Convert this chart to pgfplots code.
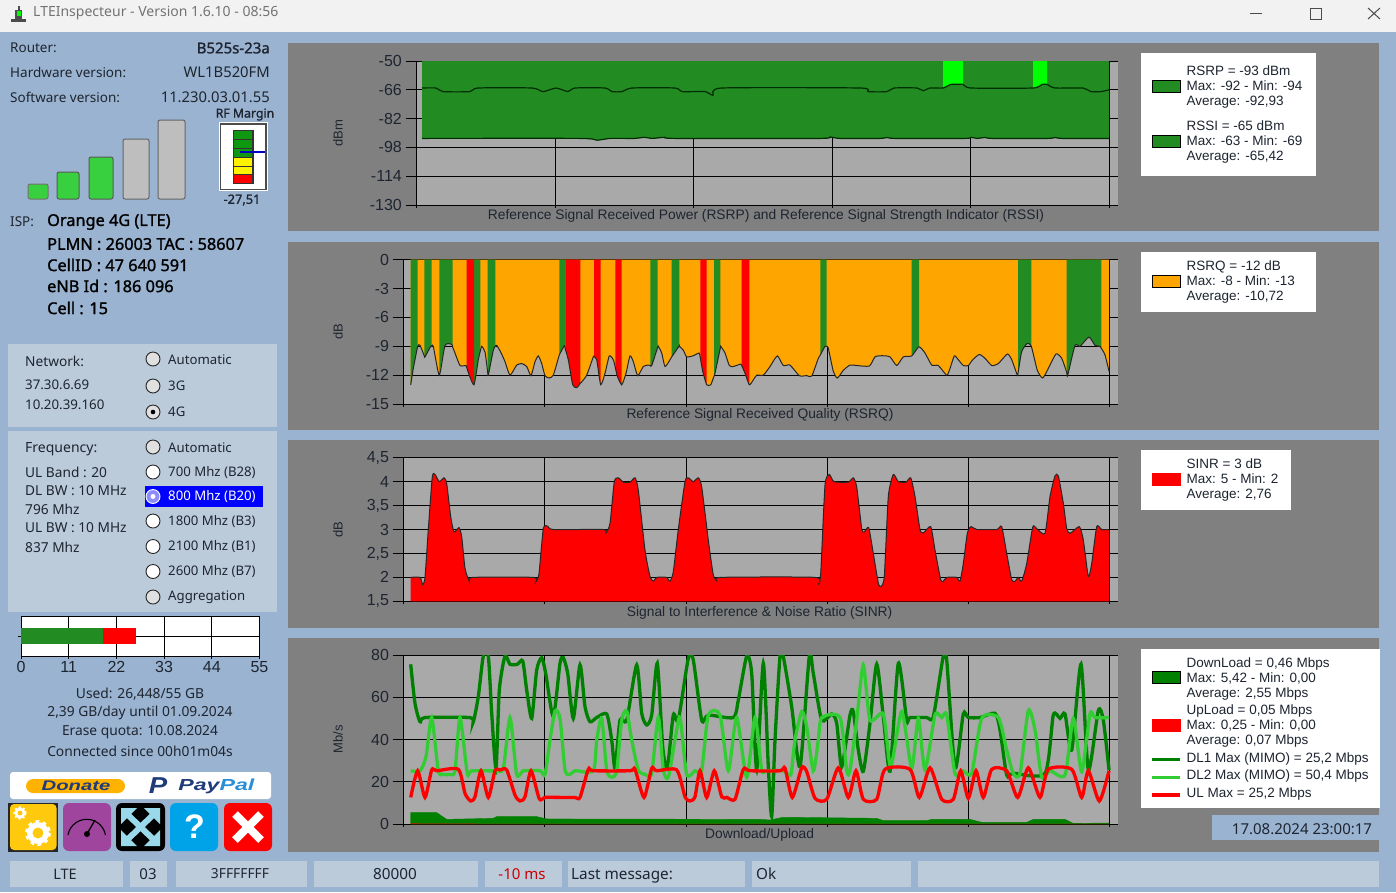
\documentclass[border=0pt]{standalone}
\usepackage{fontspec}
\usepackage{pgfplots}
\usepackage{pgfplotstable}
\pgfplotsset{compat=1.18}
\setmainfont{Liberation Sans}
\newfontfamily\ui{Noto Sans}
\newfontfamily\uib[FakeBold=1.3]{Noto Sans}
\newcommand\fs[1]{\fontsize{#1}{15}\selectfont}
\definecolor{panel}{HTML}{808080}
\definecolor{plotbg}{HTML}{A9A9A9}
\definecolor{outer}{HTML}{9AB3D0}
\definecolor{box}{HTML}{BCCBDA}
\definecolor{fgreen}{HTML}{228B22}
\definecolor{lgreen}{HTML}{32CD32}
\definecolor{dgreen}{HTML}{008000}
\definecolor{lime}{HTML}{00FF00}
\definecolor{orng}{HTML}{FFA500}
\definecolor{ink}{HTML}{1E2530}
\definecolor{barg}{HTML}{39D040}
\definecolor{barh}{HTML}{BEBEBE}
\definecolor{navy}{HTML}{1F3B7A}
\definecolor{ppblue}{HTML}{2A8FD8}
\definecolor{btny}{HTML}{FFC90E}
\definecolor{btnp}{HTML}{A0459E}
\definecolor{btnb}{HTML}{00A2E8}
\definecolor{btna}{HTML}{99D9EA}
\pgfplotsset{
  swatch/.style={legend image code/.code={\path (-11pt,0pt) (34pt,0pt);\draw[fill=#1,draw=black,line width=1pt] (0pt,-5pt) rectangle (28pt,7pt);}},
  swatchr/.style={legend image code/.code={\path (-11pt,0pt) (34pt,0pt);\fill[#1] (0pt,-5pt) rectangle (28pt,7pt);}},
  lineimg/.style={legend image code/.code={\path (-11pt,0pt) (34pt,0pt);\draw[#1,line width=3.5pt] (0pt,-1pt) -- (28pt,-1pt);}},
  chart/.style={
    scale only axis,
    anchor=south west,
    axis background/.style={fill=plotbg},
    axis x line*=bottom, axis y line*=left,
    axis line style={-,black,line width=1pt},
    y axis line style={line width=1.5pt},
    grid=both, grid style={black,line width=0.9pt},
    minor grid style={black,line width=0.9pt},
    major tick length=11pt, minor tick length=3pt,
    tick style={black,line width=0.9pt},
    tick align=outside,
    xtick={300},
    xticklabels={},
    scaled ticks=false,
    /pgf/number format/assume math mode=true,
    yticklabel style={font=\fs{16},text=ink,inner xsep=3.5pt},
    ylabel style={font=\fs{13},text=ink},
    xlabel style={font=\fs{13.8},text=ink,anchor=center},
    every axis plot/.append style={forget plot},
    clip=true,
    legend style={draw=none,fill=white,font=\fs{13.5},text=ink,anchor=north west,
      nodes={inner sep=0pt,text depth=},cells={anchor=west},
      inner xsep=0pt,inner ysep=8.5pt},
  },
}
\newcommand\lgd[2]{\parbox{#1}{\raggedright #2}}
% ---- series: x is the horizontal sample position, y the value
\pgfplotstableread{
x y
422 -65
436 -65
443 -67
470 -67
478 -65
532 -65
543 -67
556 -65
568 -67
575 -65
605 -65
612 -67
622 -67
632 -65
675 -65
682 -67
705 -67
713 -69
722 -65
860 -65
868 -67
887 -67
894 -65
917 -65
923 -66.5
930 -65
943 -65
951 -63
963 -63
971 -65
1033 -65
1042 -63
1047 -63
1055 -65
1083 -65
1091 -67
1101 -67
1109 -66
}\rssi
\pgfplotstableread{
x y
422 -93
580 -93
597 -94
610 -93
635 -93
644 -92.4
652 -93
660 -92.6
665 -92.4
675 -93
820 -93
830 -92.2
840 -93
880 -93
887 -92.5
895 -93
965 -93
971 -92.4
977 -93
985 -92.5
992 -93
1048 -93
1055 -92.5
1062 -93
1109 -93
}\rsrp
\pgfplotstableread{
x y
410.7 -13
413.3 -11.3
417.7 -9
420 -8.9
424.3 -10
425 -10.1
430.7 -9
431.7 -9
433.3 -9
439.3 -12
445 -8.9
451.7 -8.8
452.7 -9.1
455 -9.7
460 -11
466 -11
466.7 -11.2
469.3 -12
474 -13
478.3 -10.4
480.3 -9.5
481.7 -9
485 -9.6
487.7 -11.7
488.3 -12
493.3 -9.4
495.3 -9
496.7 -8.9
500.7 -9.6
505 -10.6
510 -12
516.7 -10.95
521.7 -10.8
526.7 -11.1
531 -12.05
535 -10.6
538.3 -10
541.7 -10.8
545 -12.05
549.3 -12.3
553.3 -12
558.3 -10.25
559.3 -9.9
564.3 -8.95
565.3 -9.3
568.3 -10.4
572.7 -13
576.7 -13.3
580.3 -12.85
581.7 -12.7
586.7 -12
593.3 -10.1
594 -10.1
596.7 -10.4
600.7 -13
605 -11.8
609.3 -10
613.3 -10.4
615.3 -11.2
617.3 -12.1
621.7 -13
626 -11.8
630 -10
633.3 -10.6
637.7 -12.05
643.3 -11.1
648.3 -10.95
650.3 -11
651.7 -11
657.7 -9.1
658.3 -9
661.7 -9.7
665 -11.1
670 -10.4
671.7 -10.1
679 -9
679.3 -9
683.3 -9.4
686.7 -10.1
693.3 -9.98
699 -9.7
700.3 -10.2
702.7 -11.6
706.7 -13
710.7 -13
714 -12.1
715 -11.8
720.3 -9.2
720.7 -9
725 -9.7
729.3 -11
733.3 -11.1
740.7 -10.85
741.7 -11
745 -11.8
749.3 -13
753.3 -12.5
756.7 -12
763.3 -12
770 -11.1
777.3 -10
783.3 -11
790 -10.95
799.3 -12.05
806.7 -12.05
811.7 -12.1
818.3 -10.25
820.3 -9.9
825 -9
826.7 -9
828.3 -9.2
833.3 -11.6
837.3 -12.3
843.3 -11.5
850 -10.95
856.7 -11
869.3 -11.05
875 -10.1
881.7 -9.98
890 -10.1
896.7 -11
903.3 -10.1
911.7 -10
919 -9.05
925 -9.7
931.7 -10.95
938.3 -11
946.7 -12
950 -11.3
954.3 -10
958.3 -10.4
963.3 -11
968.3 -11
972.7 -10.4
979.3 -9.85
985 -10.25
991.7 -11
998.3 -10.8
1007.3 -9.8
1011.7 -10.4
1017.3 -12
1018 -11.8
1021.7 -9.55
1027.3 -8.7
1031.3 -9
1037.3 -11.5
1042.7 -12.3
1048.3 -11.3
1056 -9.8
1061.7 -10.25
1066.7 -11.7
1067.7 -12
1075 -8.9
1080 -9
1089 -8.05
1095 -8.9
1100 -9
1101.3 -9.2
1105 -9.9
1109 -11.6
}\rsrq
\pgfplotstableread{
x y
410.7 2
420 2
422.7 1.85
425 2
428.3 3
432.3 4.1
435 4.15
439.3 4
444 4.08
446.7 3.96
450.7 3.27
454 2.95
459 3.04
461.7 2.85
465 2.19
469.3 1.92
472.7 2
533.3 2
536 1.91
539 2.08
543.3 3.02
547.7 3.07
553.3 3
603.3 3
606 2.93
610 3.13
614.3 4
618.3 4.08
623.3 3.99
630 3.99
635 4.08
638.3 3.82
645 2.57
650 2.02
653.3 1.92
656.7 2
666.7 2
670 1.92
673.3 2.12
678.3 3
685 4
688.3 4.08
693.3 4
698.3 4.08
701.7 3.89
708.3 2.78
713.3 2.05
717.3 1.92
720.7 2
815 2
818.3 1.85
820.7 2.08
825 3.93
829.3 4.15
834 4
848.3 3.99
853.3 4.08
856.7 3.89
861.7 3.02
864.3 2.95
868.7 3.04
873.3 2.5
878.3 1.88
881 1.81
884.3 2.02
888.3 3.69
893.3 4.15
898.3 4
906 3.99
910.7 4.08
915 3.69
920 3
923.3 2.93
930.7 3.06
935 2.57
940.7 1.95
943.3 1.92
946.7 2
956.7 2
960 1.92
963.3 2.29
967.3 2.92
971 3.06
976.7 3
996.7 3
1001.7 3.06
1006.7 2.5
1011.7 1.95
1015 1.92
1018.3 2
1021.7 1.92
1026.7 2.29
1032.7 3.05
1036.7 3.02
1045 2.92
1050 3.69
1055 4.12
1058.3 4.12
1063.3 3.55
1066.7 3.02
1070 2.92
1079.3 3.06
1083.3 2.78
1088.3 2.02
1091.7 2.29
1096.7 3.06
1101.7 3
1109 3
}\sinr
\pgfplotstableread{
x y
410.7 5.4
436.7 5.4
446.7 2.2
493.3 2.7
496.7 3.5
536.7 3.5
546.7 2.4
760 2.2
770 1.9
783.3 3.2
876.7 2.7
883.3 1.6
926.7 1.6
931.7 2.2
970 2.2
981.7 0.8
1026.7 0.8
1033.3 2.2
1065 2.2
1073.3 0.3
1109 0.46
}\dlq
\pgfplotstableread{
x y
410.7 0.25
470 0.2
480 0.05
700 0.08
1109 0.05
}\ulq
\pgfplotstableread{
x y
410.7 75.6
415 57.1
420 48.4
425 50.4
470 50.4
473.3 48.4
478.3 60.3
483.3 79.5
488.3 79.5
491.7 52.4
496 26.4
499.3 63.4
505 79.5
510 75.6
517.3 75.6
522.7 77.2
526.7 63.4
531.7 50
536.7 72.9
541.7 78.7
545.7 71.3
553.3 50.8
560 76.1
563.3 78.7
567.7 71.3
573.3 50
580 75.3
585 55.5
590 48.4
596.7 50.4
606.7 52.1
611.7 39.8
615 26.4
620 49.2
626.7 49.2
636.7 75.3
641.7 52.4
646.7 46.9
651.7 51.6
657.3 76.1
662.7 36.6
667.3 26.4
673.3 51.6
678.3 49.2
688.3 78.4
693.3 77.6
701.7 49.2
708.3 51.6
733.3 50.4
738.3 58.7
746.7 79.5
751.7 71.3
756.7 25.6
763.3 76.1
768.3 27.1
771.7 3.5
775 39.8
780 79.5
783.3 79.2
791.7 55.5
800 27.1
809.3 79.5
813.3 71.3
821.7 49.2
831.7 52.1
836.7 47.7
841.7 27.1
850 51.6
853.3 53.2
858.3 35
863.3 25
870 47.7
876.7 75.7
883.3 50.8
890 25
898.3 76.1
906.7 49.2
910 50.4
926.7 50.4
933.3 50.8
943.3 79.5
946.7 77.6
955 26.4
963.3 52.1
968.3 50.4
980 50.4
995 52.4
1000 44.5
1006.7 23.2
1013.3 24
1045 24
1053.3 51.6
1060 50
1065 52.1
1071.7 35
1081 75.7
1088.3 25.6
1098.3 53.7
1103.3 49.2
1109 25.6
}\dla
\pgfplotstableread{
x y
410.7 25.2
420 25.2
426 31.9
431.7 50.4
438.3 25.2
443.3 23.5
450 23.5
455 25.2
460 50.4
467.3 24
471.7 25.2
495 25.2
503.3 26.4
510 50.4
516.7 23.5
523.3 25.2
540 25.2
545 23.5
550 39.8
555 53.5
560 50
565 25.6
570 23.5
575 25.2
593.3 25.2
596.7 39.8
601.7 50
606.7 25.6
611.7 22.1
616.7 25.2
621.7 49.2
626.7 53.5
631.7 39.8
638.3 25.6
645 23.5
651.7 24
658.3 50.4
663.3 25.6
668.3 22.1
675 39.8
680 50.4
686.7 23.5
695 25.2
701.7 25.6
708.3 51.6
720 51.6
728.3 25.2
736.7 50.4
746.7 22.1
755 50.4
761.7 25.6
766.7 25.2
783.3 25.2
790.7 23.2
795 39.8
801.7 53.2
806.7 46.1
813.3 25.2
818.3 39.8
821.7 50.4
840 50.4
846.7 25.2
850 25.6
856.7 49.2
863.3 75.3
870 49.2
883.3 52.1
890.7 27.1
901.7 53.2
911.7 26.4
918.3 50
925 25.6
935 51.6
941.7 50.4
946.7 51.6
955 24
963.3 25.2
971.7 24
981.7 50
998.3 50.4
1006.7 35
1013.3 24
1020 24
1028.3 53.7
1035 44.5
1041.7 22.1
1050 25.2
1065 23.2
1073.3 50
1081.7 24.8
1090 52.1
1095 50.4
1109 50.4
}\dlb
\pgfplotstableread{
x y
410.7 12.6
417.7 25.2
425 12.6
431.7 25.6
436.7 25.2
458.3 25.9
465 14.5
470.7 10.9
475 12.9
481 25.2
488.3 12.6
495 25.2
500 25.6
506.7 25.6
515 13.7
520 10.9
525 12.9
531 25.2
539.3 11.9
545 12.6
560 12.6
575 12.6
580 12.6
588.3 25.9
593.3 25.2
630 25.2
635 25.9
644 12.6
651.7 26.4
656.7 25.2
676.7 25.6
685 12.9
690 10.9
695 12.9
700 25.2
706.7 12.6
714.3 25.2
721.7 12.9
726.7 12.6
735 11.7
743.3 25.9
750 25.2
780 25.2
785 26.4
792.3 12.6
801.7 26.6
806.7 24.8
815 12.2
826.7 11.7
838.3 26.6
848.3 12.6
856 25.2
863.3 11.7
876.7 11.7
885 25.9
910 25.9
919.3 12.6
930 26.6
941.7 11.7
953.3 11.7
960.7 25.2
968.3 12.2
976 25.2
983.3 12.6
991.7 25.9
1006.7 25.2
1017.7 12.6
1028.3 26.6
1040 12.6
1048.3 25.9
1071.7 25.9
1081.7 12.6
1088.3 25.2
1099.3 10.9
1109 25.2
}\ulm
\begin{document}
\begin{tikzpicture}[x=1pt,y=-1pt]
\useasboundingbox (0,0) rectangle (1396,892);
\fill[outer] (0,0) rectangle (1396,892);
% title bar
\fill[white!95!black] (0,0) rectangle (1396,32);
\node[anchor=west,inner sep=0pt,text=black!55] at (33,13) {\ui\fs{14}LTEInspecteur - Version 1.6.10 - 08:56};
\fill[black!70] (11,19) rectangle (26,22);
\fill[black!70] (15,10) rectangle (22,19);
\fill[lime] (16.5,11) rectangle (20.5,16);
\fill[black!70] (17.5,6) rectangle (19.5,10);
\draw[black!70,line width=1pt] (1250,13) -- (1262,13);
\draw[black!70,line width=1pt] (1310,8) rectangle (1321,19);
\draw[black!70,line width=1pt] (1368,8) -- (1380,19) (1380,8) -- (1368,19);
% chart panels
\fill[panel] (288,43) rectangle (1379,231);
\fill[panel] (288,242) rectangle (1379,430);
\fill[panel] (288,440) rectangle (1379,628);
\fill[panel] (288,638) rectangle (1379,852);
% left column
\begin{scope}[every node/.style={inner sep=0pt,text=ink}]
\node[anchor=west] at (10,48) {\ui\fs{13.5}Router:};
\node[anchor=east] at (270,48) {\uib\fs{15}B525s-23a};
\node[anchor=west] at (10,72) {\ui\fs{13.5}Hardware version:};
\node[anchor=east] at (270,72) {\ui\fs{14.8}WL1B520FM};
\node[anchor=west] at (10,97) {\ui\fs{13.5}Software version:};
\node[anchor=east] at (270,97) {\ui\fs{14.8}11.230.03.01.55};
\node at (245,114.5) {\uib\fs{12.3}RF Margin};
\node at (242,200) {\uib\fs{12.8}-27,51};
\node[anchor=west] at (10,222) {\ui\fs{13.5}ISP:};
\node[anchor=west,text=black] at (47,222) {\uib\fs{16.3}Orange 4G (LTE)};
\node[anchor=west,text=black] at (47,244) {\uib\fs{16.3}PLMN : 26003 TAC : 58607};
\node[anchor=west,text=black] at (47,265) {\uib\fs{16.3}CellID : 47 640 591};
\node[anchor=west,text=black] at (47,286) {\uib\fs{16.3}eNB Id : 186 096};
\node[anchor=west,text=black] at (47,308) {\uib\fs{16.3}Cell : 15};
\end{scope}
% signal bars
\foreach \a/\b/\c/\col/\ed in {28/48/184/barg/black!55,57/79/172/barg/black!65,89/113/157/barg/black!65,123/149/139/barh/black!60,158/185/120/barh/black!60}{
  \draw[fill=\col,draw=\ed,line width=1pt,rounded corners=2pt] (\a,\c) rectangle (\b,199);
}
% RF margin
\fill[white] (219,122) rectangle (268,191);
\draw[black!70,line width=1.5pt] (220.5,124) rectangle (266,189.5);
\fill[black!80] (232.5,129.5) rectangle (253.5,184);
\foreach \a/\b/\col in {130.5/139/dgreen!70!lgreen,140/148/dgreen!70!lgreen,149/157/dgreen!70!lgreen,158/165.5/yellow,166.5/174/yellow,175/183/red}{
  \fill[\col] (234,\a) rectangle (252,\b);
}
\draw[blue!75!black,line width=1.2pt] (240,152) -- (265,152);
% network and frequency boxes
\fill[box] (8,344) rectangle (277,427);
\fill[box] (8,431) rectangle (277,612);
\begin{scope}[every node/.style={inner sep=0pt,text=ink,anchor=west}]
\node at (25,361) {\ui\fs{13.7}Network:};
\node at (25,385) {\ui\fs{13.3}37.30.6.69};
\node at (25,405) {\ui\fs{13.3}10.20.39.160};
\node at (25,449) {\ui\fs{14}Frequency:};
\node at (25,472) {\ui\fs{13.7}UL Band : 20};
\node at (25,491) {\ui\fs{13.7}DL BW : 10 MHz};
\node at (25,509) {\ui\fs{13.7}796 Mhz};
\node at (25,528) {\ui\fs{13.7}UL BW : 10 MHz};
\node at (25,547) {\ui\fs{13.7}837 Mhz};
\node at (168,360) {\ui\fs{13.2}Automatic};
\node at (168,386) {\ui\fs{13.2}3G};
\node at (168,412) {\ui\fs{13.2}4G};
\node at (168,447.5) {\ui\fs{13.2}Automatic};
\node at (168,472.5) {\ui\fs{13.2}700 Mhz (B28)};
\node at (168,522) {\ui\fs{13.2}1800 Mhz (B3)};
\node at (168,547) {\ui\fs{13.2}2100 Mhz (B1)};
\node at (168,572) {\ui\fs{13.2}2600 Mhz (B7)};
\node at (168,597.5) {\ui\fs{13.2}Aggregation};
\end{scope}
\fill[blue] (145,486) rectangle (263,507);
\node[anchor=west,inner sep=0pt,text=white] at (168,497) {\ui\fs{13.2}800 Mhz (B20)};
\foreach \yy/\col in {359/black!12,386/black!12,412/black!12,447/black!12,472/white,521/white,546.5/white,571.5/white,597/black!12}{
  \draw[fill=\col,draw=black!85,line width=0.9pt] (153,\yy) circle (7);
}
\fill[black] (153,412) circle (2.3);
\draw[fill=blue!45!white,draw=white,line width=0.9pt] (153,496.5) circle (7);
\fill[white] (153,496.5) circle (2.5);
% quota axis
\begin{axis}[scale only axis,anchor=south west,at={(21pt,-656pt)},width=238.5pt,height=39.5pt,
  xmin=0,xmax=55,ymin=0,ymax=2,xtick={0,11,22,33,44,55},ytick={1},yticklabels={},
  grid=major,grid style={black,line width=0.9pt},axis line style={black,line width=1pt},
  axis background/.style={fill=white},
  xbar stacked,bar width=16pt,
  tick align=outside,xtick pos=bottom,ytick pos=left,
  major tick length=3pt,tick style={black,line width=0.9pt},
  /pgf/number format/assume math mode=true,
  xticklabel style={font=\fs{16},text=ink,inner ysep=2pt}]
\addplot[fill=fgreen,draw=none] coordinates {(18.86,1)};
\addplot[fill=red,draw=none] coordinates {(7.58,1)};
\end{axis}
\begin{scope}[every node/.style={inner sep=0pt,text=ink}]
\node at (140,694) {\ui\fs{13.8}Used: 26,448/55 GB};
\node at (140,713) {\ui\fs{13.8}2,39 GB/day until 01.09.2024};
\node at (140,732) {\ui\fs{13.8}Erase quota: 10.08.2024};
\node at (140,751) {\ui\fs{13.8}Connected since 00h01m04s};
\end{scope}
% donate
\fill[white,rounded corners=3pt] (10,772) rectangle (271,799);
\fill[orng!85!yellow,rounded corners=7pt] (26,779) rectangle (125,793);
\node[inner sep=0pt,text=navy,xscale=1.45] at (76,786) {\fs{14}\bfseries\itshape Donate};
\node[inner sep=0pt,text=navy,xscale=1.2] at (158,785.5) {\fs{23}\bfseries\itshape P};
\node[anchor=west,inner sep=0pt,xscale=1.45] at (178,786) {\fs{16}\bfseries\itshape\textcolor{navy}{Pay}\textcolor{ppblue}{Pal}};
% buttons
\fill[black!85] (8,802.5) rectangle (58,851.5);
\fill[btny,rounded corners=4pt] (10,804) rectangle (56.5,850);
\draw[white,line width=4pt,dash pattern=on 3.5pt off 3.5pt] (38,833) circle (11);
\fill[white] (38,833) circle (11);
\fill[btny] (38,833) circle (5.5);
\draw[white,line width=2.2pt,dash pattern=on 2pt off 2pt] (20,813) circle (5.5);
\fill[white] (20,813) circle (5.5);
\fill[btny] (20,813) circle (2.5);
\fill[btnp,rounded corners=6pt] (63,803) rectangle (111,851);
\draw[black,line width=1.1pt] (68,835) arc (-170:-10:19);
\draw[black,line width=1.3pt] (87,834) -- (95,820);
\fill[black] (87,834) circle (3);
\fill[black,rounded corners=6pt] (116,803) rectangle (165,851);
\draw[btna,line width=6pt] (127,814) -- (154,840) (154,814) -- (127,840);
\fill[btna] (121,808) -- (137,808) -- (121,824) -- cycle;
\fill[btna] (160,808) -- (144,808) -- (160,824) -- cycle;
\fill[btna] (121,846) -- (137,846) -- (121,830) -- cycle;
\fill[btna] (160,846) -- (144,846) -- (160,830) -- cycle;
\fill[btnb,rounded corners=6pt] (170,803) rectangle (218,851);
\node[inner sep=0pt,text=white] at (194.5,827) {\fs{34}\bfseries ?};
\fill[red,rounded corners=6pt] (224,803) rectangle (272,851);
\draw[white,line width=8pt] (235,814) -- (261,840) (261,814) -- (235,840);
% date and status bar
\fill[outer] (1212,815) rectangle (1379,840);
\node[inner sep=0pt,text=ink] at (1302,829) {\ui\fs{15}17.08.2024 23:00:17};
\foreach \a/\b in {10/123,130/167,176/307,314/478,485/562,568/745,752/911,918/1379}{
  \fill[box] (\a,861) rectangle (\b,887);
}
\begin{scope}[every node/.style={inner sep=0pt,text=ink}]
\node at (65,874) {\ui\fs{14.5}LTE};
\node at (148,874) {\ui\fs{15}03};
\node at (240,874) {\ui\fs{13.8}3FFFFFFF};
\node at (395,874) {\ui\fs{15.3}80000};
\node[text=red!80!black] at (522,874) {\ui\fs{15}-10 ms};
\node[anchor=west] at (571,875.5) {\ui\fs{15.3}Last message:};
\node[anchor=west] at (756,874) {\ui\fs{15.3}Ok};
\end{scope}
% ---------- chart 1
\begin{axis}[chart,at={(416.5pt,-205pt)},width=701pt,height=144pt,
  xmin=416.5,xmax=1117.5,ymin=-130,ymax=-50,
  minor xtick={416.5,555,693.5,832,970.5,1109},ytick={-130,-114,-98,-82,-66,-50},
  ylabel={dBm},y label style={at={(axis description cs:-0.112,0.5)},anchor=center},
  xlabel={Reference Signal Received Power (RSRP) and Reference Signal Strength Indicator (RSSI)},
  x label style={at={(axis description cs:0.4986,-0.0765)}},
  legend style={at={(axis description cs:1.0335,1.0556)},row sep=12pt,inner ysep=13pt}]
\addplot[smooth,tension=0.35,fill=fgreen,draw=none] table[x=x,y=y] {\rsrp} \closedcycle;
\addplot[fill=lime,draw=none] coordinates {(943,-65)(951,-63)(963,-63)} \closedcycle;
\addplot[fill=lime,draw=none] coordinates {(1033,-65)(1042,-63)(1047,-63)} \closedcycle;
\addplot[smooth,tension=0.35,draw=black!60!green!45!black,line width=1.2pt] table[x=x,y=y] {\rsrp};
\addplot[smooth,tension=0.35,draw=black!60!green!45!black,line width=1.2pt] table[x=x,y=y] {\rssi};
\addlegendimage{swatch=fgreen}
\addlegendentry{\lgd{129pt}{RSRP = -93 dBm\\Max: -92 - Min: -94\\Average: -92,93}}
\addlegendimage{swatch=fgreen}
\addlegendentry{\lgd{129pt}{RSSI = -65 dBm\\Max: -63 - Min: -69\\Average: -65,42}}
\end{axis}
% ---------- chart 2
\begin{axis}[chart,at={(403.7pt,-404pt)},width=714pt,height=144.3pt,
  xmin=403.7,xmax=1117.7,ymin=-15,ymax=0,
  minor xtick={403.7,544.8,686,827.2,968.2,1109.3},ytick={-15,-12,-9,-6,-3,0},
  ylabel={dB},y label style={at={(axis description cs:-0.092,0.5)},anchor=center},
  xlabel={Reference Signal Received Quality (RSRQ)},
  x label style={at={(axis description cs:0.499,-0.0765)}},
  legend style={at={(axis description cs:1.0327,1.0533)}}]
\addplot[smooth,tension=0.35,fill=orng,draw=none] table[x=x,y=y] {\rsrq} \closedcycle;
\pgfplotsinvokeforeach{410.65:417.75,424.25:431.75,439.25:452.75,473.95:480.35,487.65:495.35,559.25:565.35,650.25:657.75,671.65:679.35,713.95:720.35,820.25:826.75,911.65:919.05,1017.95:1031.35,1066.65:1101.35}{
  \addplot[smooth,tension=0.35,fill=fgreen,draw=none,restrict x to domain=#1] table[x=x,y=y] {\rsrq} \closedcycle;
}
\pgfplotsinvokeforeach{466.65:474.05,565.25:580.35,593.95:600.75,615.25:621.75,700.25:706.75,741.65:749.35}{
  \addplot[smooth,tension=0.35,fill=red,draw=none,restrict x to domain=#1] table[x=x,y=y] {\rsrq} \closedcycle;
}
\addplot[smooth,tension=0.35,draw=black!85,line width=1pt] table[x=x,y=y] {\rsrq};
\addlegendimage{swatch=orng}
\addlegendentry{\lgd{129pt}{RSRQ = -12 dB\\Max: -8 - Min: -13\\Average: -10,72}}
\end{axis}
% ---------- chart 3
\begin{axis}[chart,at={(403.7pt,-601.3pt)},width=714pt,height=143.6pt,
  xmin=403.7,xmax=1117.7,ymin=1.5,ymax=4.5,
  minor xtick={403.7,544.8,686,827.2,968.2,1109.3},ytick={1.5,2,2.5,3,3.5,4,4.5},
  /pgf/number format/use comma,
  ylabel={dB},y label style={at={(axis description cs:-0.092,0.5)},anchor=center},
  xlabel={Signal to Interference \& Noise Ratio (SINR)},
  x label style={at={(axis description cs:0.4985,-0.0815)}},
  legend style={at={(axis description cs:1.0327,1.0536)}}]
\addplot[smooth,tension=0.35,fill=red,draw=none] table[x=x,y=y] {\sinr} \closedcycle;
\addplot[smooth,tension=0.35,draw=black!85,line width=1pt] table[x=x,y=y] {\sinr};
\addlegendimage{swatchr=red}
\addlegendentry{\lgd{104pt}{SINR = 3 dB\\Max: 5 - Min: 2\\Average: 2,76}}
\end{axis}
% ---------- chart 4
\begin{axis}[chart,at={(403.7pt,-824pt)},width=714pt,height=169pt,
  xmin=403.7,xmax=1117.7,ymin=0,ymax=80,
  minor xtick={403.7,544.8,686,827.2,968.2,1109.3},ytick={0,20,40,60,80},
  ylabel={Mb/s},y label style={at={(axis description cs:-0.092,0.5)},anchor=center},
  xlabel={Download/Upload},
  x label style={at={(axis description cs:0.4985,-0.065)}},
  legend style={at={(axis description cs:1.0327,1.0355)},row sep=5pt,inner ysep=8pt}]
\addplot[fill=dgreen,draw=dgreen] table[x=x,y=y] {\dlq} \closedcycle;
\addplot[fill=red,draw=none] table[x=x,y=y] {\ulq} \closedcycle;
\addplot[smooth,tension=0.4,draw=dgreen,line width=3.3pt] table[x=x,y=y] {\dla};
\addplot[smooth,tension=0.4,draw=lgreen,line width=3.3pt] table[x=x,y=y] {\dlb};
\addplot[smooth,tension=0.4,draw=red,line width=3.3pt] table[x=x,y=y] {\ulm};
\addlegendimage{swatch=dgreen}
\addlegendentry{\lgd{193pt}{DownLoad = 0,46 Mbps\\Max: 5,42 - Min: 0,00\\Average: 2,55 Mbps}}
\addlegendimage{swatchr=red}
\addlegendentry{\lgd{193pt}{UpLoad = 0,05 Mbps\\Max: 0,25 - Min: 0,00\\Average: 0,07 Mbps}}
\addlegendimage{lineimg=dgreen}
\addlegendentry{\lgd{193pt}{DL1 Max (MIMO) = 25,2 Mbps}}
\addlegendimage{lineimg=lgreen}
\addlegendentry{\lgd{193pt}{DL2 Max (MIMO) = 50,4 Mbps}}
\addlegendimage{lineimg=red}
\addlegendentry{\lgd{193pt}{UL Max = 25,2 Mbps}}
\end{axis}
\end{tikzpicture}
\end{document}
